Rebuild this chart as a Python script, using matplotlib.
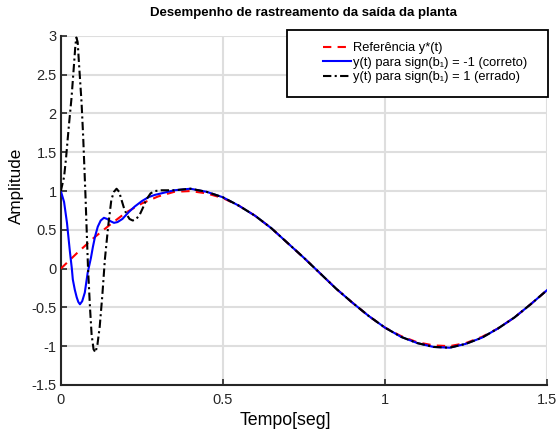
import matplotlib
matplotlib.use("Agg")
import matplotlib.pyplot as plt
from matplotlib.patches import Rectangle

# reference y*(t)
t_ref = [0.00, 0.05, 0.10, 0.15, 0.20, 0.25, 0.30, 0.35, 0.40, 0.45, 0.50,
         0.55, 0.60, 0.65, 0.70, 0.75, 0.80, 0.85, 0.90, 0.95, 1.00, 1.05,
         1.10, 1.15, 1.20, 1.25, 1.30, 1.35, 1.40, 1.45, 1.50]
y_ref = [0.00, 0.20, 0.39, 0.56, 0.72, 0.84, 0.93, 0.99, 1.00, 0.97, 0.91,
         0.81, 0.68, 0.52, 0.33, 0.14, -0.06, -0.26, -0.44, -0.61, -0.76, -0.87,
         -0.95, -0.99, -1.00, -0.96, -0.88, -0.77, -0.63, -0.46, -0.28]

# y(t) with sign(b1) = -1 (correct)
t_ok = [0.000, 0.010, 0.019, 0.028, 0.034, 0.037, 0.043, 0.049, 0.054, 0.059,
        0.066, 0.074, 0.083, 0.093, 0.099, 0.106, 0.114, 0.123, 0.133, 0.143,
        0.154, 0.164, 0.175, 0.190, 0.210, 0.228, 0.250, 0.270, 0.290, 0.320,
        0.350, 0.400, 0.450, 0.500, 0.550, 0.600, 0.650, 0.700, 0.750, 0.800,
        0.850, 0.900, 0.950, 1.000, 1.050, 1.100, 1.150, 1.200, 1.250, 1.300,
        1.350, 1.400, 1.450, 1.500]
y_ok = [1.00, 0.86, 0.59, 0.22, 0.00, -0.14, -0.27, -0.37, -0.43, -0.46,
        -0.42, -0.31, -0.05, 0.14, 0.28, 0.42, 0.54, 0.62, 0.655, 0.64,
        0.61, 0.59, 0.60, 0.64, 0.73, 0.80, 0.87, 0.92, 0.95, 0.98,
        1.01, 1.03, 0.99, 0.92, 0.81, 0.68, 0.52, 0.33, 0.14, -0.06,
        -0.26, -0.44, -0.61, -0.76, -0.88, -0.96, -1.01, -1.02, -0.97, -0.89,
        -0.77, -0.63, -0.46, -0.28]

# y(t) with sign(b1) = 1 (wrong)
t_bad = [0.000, 0.010, 0.016, 0.021, 0.025, 0.033, 0.041, 0.045, 0.048, 0.052,
         0.056, 0.064, 0.069, 0.076, 0.084, 0.090, 0.095, 0.101, 0.107, 0.113,
         0.120, 0.128, 0.136, 0.146, 0.156, 0.164, 0.172, 0.180, 0.187, 0.195,
         0.203, 0.212, 0.222, 0.233, 0.244, 0.254, 0.264, 0.277, 0.290, 0.310,
         0.350, 0.400, 0.450, 0.500, 0.550, 0.600, 0.650, 0.700, 0.750, 0.800,
         0.850, 0.900, 0.950, 1.000, 1.050, 1.100, 1.150, 1.200, 1.250, 1.300,
         1.350, 1.400, 1.450, 1.500]
y_bad = [1.00, 1.18, 1.42, 1.66, 1.85, 2.20, 2.65, 2.88, 2.98, 2.92,
         2.65, 2.14, 1.70, 0.95, 0.00, -0.50, -0.85, -1.04, -1.08, -0.98,
         -0.75, -0.35, 0.12, 0.54, 0.89, 0.99, 1.03, 0.99, 0.89, 0.78,
         0.70, 0.64, 0.62, 0.64, 0.70, 0.79, 0.89, 0.97, 1.00, 1.01,
         1.01, 1.03, 0.99, 0.92, 0.81, 0.68, 0.52, 0.33, 0.14, -0.06,
         -0.26, -0.44, -0.61, -0.76, -0.88, -0.96, -1.01, -1.02, -0.97, -0.89,
         -0.77, -0.63, -0.46, -0.28]

x_ticks = [0, 0.5, 1, 1.5]
x_ticklabels = ["0", "0.5", "1", "1.5"]
y_ticks = [-1.5, -1, -0.5, 0, 0.5, 1, 1.5, 2, 2.5, 3]
y_ticklabels = ["-1.5", "-1", "-0.5", "0", "0.5", "1", "1.5", "2", "2.5", "3"]

plt.rcParams["font.family"] = ["Liberation Sans", "DejaVu Sans"]

fig = plt.figure(figsize=(5.58, 4.33), dpi=100)
ax = fig.add_axes([0.109, 0.111, 0.871, 0.806])

ax.plot(t_ref, y_ref, "--", color="red", lw=1.5, dashes=(4, 3),
        label="Referência y*(t)", zorder=3)
ax.plot(t_ok, y_ok, "-", color="blue", lw=1.5,
        label="y(t) para sign(b₁) = -1 (correto)", zorder=4)
ax.plot(t_bad, y_bad, color="black", lw=1.5, dashes=(4, 1.6, 1, 1.6),
        label="y(t) para sign(b₁) = 1 (errado)", zorder=5)

ax.set_xlim(0, 1.5)
ax.set_ylim(-1.5, 3)
ax.set_xticks(x_ticks)
ax.set_xticklabels(x_ticklabels)
ax.set_yticks(y_ticks)
ax.set_yticklabels(y_ticklabels)
ax.grid(True, color="#dedede", lw=1.5)
ax.set_axisbelow(True)

for side in ("top", "right"):
    ax.spines[side].set_visible(False)
for side in ("left", "bottom"):
    ax.spines[side].set_linewidth(1.5)
    ax.spines[side].set_color("#262626")
ax.tick_params(direction="in", length=4, width=1.2, colors="#262626",
               labelsize=10.5)
ax.tick_params(axis="x", pad=6)
ax.tick_params(axis="y", pad=3)

ax.set_xlabel("Tempo[seg]", fontsize=12.8)
ax.set_ylabel("Amplitude", fontsize=12.3)
ax.xaxis.set_label_coords(0.463, -0.077)
ax.yaxis.set_label_coords(-0.076, 0.57)
ax.set_title("Desempenho de rastreamento da saída da planta",
             fontsize=9.5, fontweight="bold", pad=14)

# legend frame drawn by hand so the wide left margin matches
frame = Rectangle((287 / 558, (433 - 97) / 433), 261 / 558, 67 / 433,
                  transform=fig.transFigure, facecolor="white",
                  edgecolor="black", lw=1.3, clip_on=False, zorder=10)
ax.add_patch(frame)
leg = ax.legend(loc="upper left", bbox_to_anchor=(323 / 558, (433 - 42) / 433),
                bbox_transform=fig.transFigure, fontsize=9.3, frameon=False,
                handlelength=2.2, handletextpad=0.15, labelspacing=0.2,
                borderpad=0, borderaxespad=0)
leg.set_zorder(11)

fig.savefig("out.png", dpi=100)
